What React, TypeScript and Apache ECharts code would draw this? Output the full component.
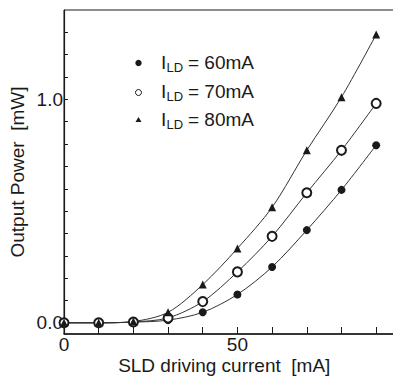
import React, { useEffect, useRef } from "react";
import * as echarts from "echarts";

const currents = [0, 10, 20, 30, 40, 50, 60, 70, 80, 90];
const power60 = [0, 0, 0.003, 0.012, 0.047, 0.127, 0.25, 0.415, 0.595, 0.795];
const power70 = [0, 0, 0.004, 0.022, 0.095, 0.228, 0.387, 0.582, 0.772, 0.982];
const power80 = [0, 0, 0.006, 0.047, 0.171, 0.333, 0.517, 0.772, 1.01, 1.29];
const xTicks = [0, 10, 20, 30, 40, 50, 60, 70, 80, 90];
const xLabels = [0, 50];
const yTicks = [0, 0.1, 0.2, 0.3, 0.4, 0.5, 0.6, 0.7, 0.8, 0.9, 1.0, 1.1, 1.2, 1.3];
const yLabels = [0, 1.0];
const legendNames = ["60mA", "70mA", "80mA"];

const FONT = "Liberation Sans, Arial, Helvetica, sans-serif";
const INK = "#1a1a1a";

export default function App() {
  const ref = useRef<HTMLDivElement>(null);
  useEffect(() => {
    if (!ref.current) return;
    const chart = echarts.init(ref.current, undefined, { renderer: "svg" });
    const pts = (ys: number[]) => currents.map((x, i) => [x, ys[i]]);
    const lineStyle = { color: "#333", width: 1 };
    const legendY = [62.5, 91, 119.5];
    const legendGraphics: any[] = [];
    legendNames.forEach((n, i) => {
      const y = legendY[i];
      if (i === 0) legendGraphics.push({ type: "circle", shape: { cx: 138.5, cy: y + 0.5, r: 3.2 }, style: { fill: INK } });
      if (i === 1) legendGraphics.push({ type: "circle", shape: { cx: 138.5, cy: y + 1.5, r: 3 }, style: { fill: "#fff", stroke: INK, lineWidth: 1 } });
      if (i === 2) legendGraphics.push({ type: "polygon", shape: { points: [[138.5, y - 2.5], [135.5, y + 2.5], [141.5, y + 2.5]] }, style: { fill: INK } });
      legendGraphics.push({ type: "text", x: 161, y, style: { text: "I", font: `19px ${FONT}`, fill: INK, verticalAlign: "middle" } });
      legendGraphics.push({ type: "text", x: 166.5, y: y + 5, style: { text: "LD", font: `13px ${FONT}`, fill: INK, verticalAlign: "middle" } });
      legendGraphics.push({ type: "text", x: 188, y, style: { text: "= " + n, font: `19px ${FONT}`, fill: INK, verticalAlign: "middle" } });
    });
    chart.setOption({
      animation: false,
      backgroundColor: "#fff",
      grid: {
        left: 64,
        top: 10,
        width: 329.5,
        height: 324,
        show: true,
        borderColor: INK,
        borderWidth: 1,
        containLabel: false,
        outerBoundsMode: "none",
      },
      xAxis: {
        type: "value",
        min: 0,
        max: 95,
        name: "SLD driving current  [mA]",
        nameLocation: "middle",
        nameGap: 22,
        nameMoveOverlap: false,
        nameTextStyle: { fontFamily: FONT, fontSize: 19, color: INK, padding: [0, 9, 0, 0] },
        axisLine: { onZero: false, lineStyle: { color: INK, width: 1.5 } },
        axisTick: { inside: true, length: 7, customValues: xTicks, lineStyle: { color: INK } },
        axisLabel: { customValues: xLabels, margin: 1, fontFamily: FONT, fontSize: 19, color: INK },
        splitLine: { show: false },
      },
      yAxis: {
        type: "value",
        min: -0.05,
        max: 1.4,
        name: "Output Power  [mW]",
        nameLocation: "middle",
        nameGap: 37,
        nameMoveOverlap: false,
        nameTextStyle: { fontFamily: FONT, fontSize: 19, color: INK },
        axisLine: { onZero: false, lineStyle: { color: INK, width: 1.2 } },
        axisTick: { inside: true, length: 4, customValues: yTicks, lineStyle: { color: INK } },
        axisLabel: {
          customValues: yLabels,
          margin: 1,
          fontFamily: FONT,
          fontSize: 19,
          color: INK,
          formatter: (v: number) => v.toFixed(1),
        },
        splitLine: { show: false },
      },
      graphic: legendGraphics,
      series: [
        {
          type: "line",
          data: pts(power60),
          smooth: 0.3,
          symbol: "circle",
          symbolSize: 8,
          itemStyle: { color: INK },
          lineStyle,
          z: 3,
        },
        {
          type: "line",
          data: pts(power70),
          smooth: 0.3,
          symbol: "emptyCircle",
          symbolSize: 9,
          itemStyle: { color: INK, borderWidth: 0.8 },
          lineStyle,
          z: 3,
        },
        {
          type: "line",
          data: pts(power80),
          smooth: 0.3,
          symbol: "triangle",
          symbolSize: 8,
          itemStyle: { color: INK },
          lineStyle,
          z: 3,
        },
      ],
    });
    return () => chart.dispose();
  }, []);
  return <div ref={ref} style={{ position: "absolute", left: 0, top: 0, width: 393, height: 376 }} />;
}
